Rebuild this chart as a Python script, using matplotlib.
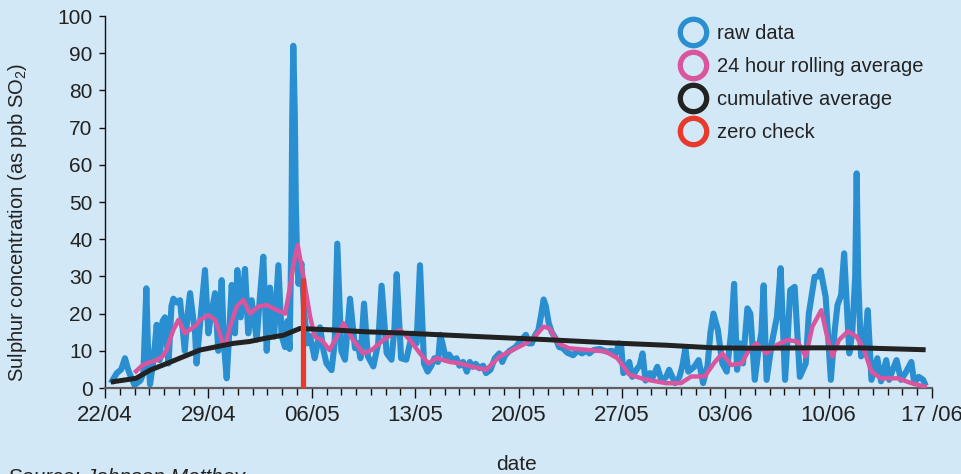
import matplotlib
matplotlib.use('Agg')
import matplotlib.pyplot as plt
from matplotlib.lines import Line2D
from matplotlib.ticker import MultipleLocator, FixedLocator

plt.rcParams['font.family'] = ['Liberation Sans', 'DejaVu Sans']
plt.rcParams['mathtext.fontset'] = 'custom'
plt.rcParams['mathtext.rm'] = 'Liberation Sans'
plt.rcParams['mathtext.it'] = 'Liberation Sans:italic'

# ---- data (x = days since 22/04) ----
tick_days = [0, 7, 14, 21, 28, 35, 42, 49, 56]
tick_labels = ['22/04', '29/04', '06/05', '13/05', '20/05', '27/05', '03/06', '10/06', '17 /06']

raw_day = [0.5, 0.8, 1.1, 1.35, 1.6, 2.0, 2.4, 2.6, 2.72, 2.8, 2.9, 3.05, 3.3, 3.5, 3.7, 3.9, 4.06,
           4.3, 4.5, 4.63, 4.85, 5.08, 5.4, 5.6, 5.76, 6.1, 6.2, 6.5, 6.77, 7.0, 7.2, 7.45, 7.67,
           7.9, 8.05, 8.24, 8.4, 8.58, 8.8, 8.96, 9.19, 9.48, 9.7, 9.93, 10.27, 10.5, 10.72, 10.95,
           11.17, 11.45, 11.74, 11.96, 12.19, 12.35, 12.5, 12.62, 12.68, 12.75, 12.85, 12.92, 13.0,
           13.1, 13.3, 13.5, 13.7, 13.88, 14.2, 14.4, 14.56, 14.8, 15.0, 15.34, 15.55, 15.73, 16.0,
           16.25, 16.59, 16.93, 17.1, 17.3, 17.54, 17.8, 18.17, 18.5, 18.73, 19.07, 19.4, 19.6,
           19.75, 20.05, 20.4, 20.65, 20.87, 21.1, 21.33, 21.6, 21.85, 22.1, 22.3, 22.55, 22.7,
           22.85, 23.1, 23.3, 23.55, 23.8, 24.0, 24.25, 24.5, 24.7, 24.9, 25.1, 25.35, 25.6, 25.8,
           26.1, 26.4, 26.7, 26.9, 27.1, 27.4, 27.8, 28.1, 28.5, 28.7, 28.9, 29.1, 29.35, 29.55,
           29.7, 29.85, 30.05, 30.25, 30.5, 30.75, 31.0, 31.3, 31.7, 32.0, 32.3, 32.6, 32.8, 33.07,
           33.5, 33.97, 34.3, 34.6, 34.8, 34.95, 35.1, 35.3, 35.5, 35.7, 36.0, 36.2, 36.4, 36.6,
           36.9, 37.1, 37.4, 37.7, 38.0, 38.2, 38.6, 38.9, 39.1, 39.3, 39.5, 39.9, 40.2, 40.5,
           40.8, 41.0, 41.2, 41.5, 41.8, 42.1, 42.4, 42.6, 42.8, 43.0, 43.2, 43.5, 43.7, 44.0,
           44.25, 44.45, 44.6, 44.8, 45.15, 45.5, 45.75, 46.05, 46.25, 46.4, 46.7, 47.05, 47.45,
           47.66, 48.05, 48.3, 48.46, 48.8, 49.15, 49.4, 49.6, 49.85, 50.05, 50.4, 50.6, 50.8,
           50.9, 51.0, 51.2, 51.45, 51.65, 51.9, 52.3, 52.55, 52.9, 53.1, 53.35, 53.6, 53.9, 54.2,
           54.6, 54.8, 55.1, 55.4, 55.5]
raw_val = [2, 4, 5, 8, 4.5, 0.8, 2, 4, 18, 26.8, 12, 1, 8, 17, 7.5, 18, 19,
           6.6, 22, 24, 23, 23.6, 10, 20, 25.5, 14.7, 6.6, 20, 31.7, 14.7, 20, 25.5, 10,
           29, 12, 2.6, 14, 27.7, 14.7, 31.7, 19, 32, 14.7, 23.6, 13, 25, 35.3, 10,
           27, 13.8, 33, 14, 11, 18, 10.5, 40, 73, 92, 74, 50, 36,
           28, 33.5, 20, 12, 14, 8, 12, 16.3, 10, 6.6, 4.8, 12, 38.8, 10,
           7.6, 24, 10.7, 12, 8, 22.7, 8.5, 5.8, 12, 27.5, 9.4, 7.6, 16,
           30.6, 8, 7.6, 12, 14.6, 12, 33, 6.6, 4.4, 6, 8, 7, 14.3,
           12, 7.5, 9, 7.5, 8, 6, 7, 4.4, 7, 5.7, 6.5, 5.3, 6, 4,
           4.9, 8, 9.3, 7, 8.8, 10, 11, 12.5, 14.3, 12, 12, 14, 15.6, 20,
           23.8, 22, 17.4, 15, 13.4, 11, 10.7, 9.5, 8.8, 10, 9.3, 10, 9.3, 10.2,
           10.5, 9.8, 10, 9.3, 12, 11.5, 4, 5, 7, 3, 5, 6, 9.3, 2,
           4, 3, 5.7, 1.8, 3, 4.9, 1.3, 3, 6, 10.7, 4.4, 5.7, 7.5, 1.3,
           6, 15, 20, 15.6, 6.6, 4.4, 15, 28, 4.9, 12, 6.6, 21.4, 20, 2.2,
           10.2, 15, 27.6, 2.2, 12, 19.2, 32.2, 2.2, 15, 26.3, 27.2, 3, 6.6,
           20, 29.9, 30, 31.6, 24.5, 2.2, 15, 22.3, 25, 36.2, 9.3, 15, 30,
           57.7, 30, 8.5, 12, 20.9, 2.2, 8, 1.8, 7.5, 2.2, 5, 7.5, 2.2, 4,
           7, 1.3, 3, 2.2, 1.3]

roll_day = [2.1, 2.5, 2.8, 3.5, 3.9, 4.17, 4.4, 4.63, 4.97, 5.2, 5.4, 5.87, 6.2, 6.43, 7.0, 7.45,
            7.75, 8.0, 8.2, 8.46, 8.92, 9.37, 9.82, 10.38, 10.95, 11.6, 12.2, 12.53, 12.8, 13.05,
            13.43, 13.9, 14.2, 14.67, 15.2, 15.7, 16.14, 16.8, 17.5, 18.06, 18.85, 19.5, 19.98,
            20.65, 21.33, 21.9, 22.46, 23.36, 24.04, 24.9, 25.8, 26.7, 27.6, 28.5, 29.0, 29.7,
            30.1, 30.7, 31.4, 32.8, 33.9, 34.7, 35.5, 36.6, 38.0, 39.0, 39.7, 40.6, 41.3, 41.8,
            42.4, 43.1, 43.6, 44.1, 44.8, 45.5, 46.2, 46.9, 47.45, 47.9, 48.5, 48.9, 49.25, 49.7,
            50.3, 50.9, 51.4, 51.9, 52.55, 53.7, 54.6, 55.5]
roll_val = [4.5, 6, 6.6, 7.5, 8.5, 10.2, 13, 15.6, 18.3, 16.5, 14.7, 16, 17, 18.3, 19.6, 18.3,
            15, 11.6, 12, 16.5, 21.9, 23.7, 20, 21.9, 22.3, 21, 20, 27.2, 34, 38.4,
            30, 19, 13.8, 12.9, 10.2, 13.8, 17.4, 12.9, 9.3, 10.2, 12.9, 14.7, 15.6,
            12.9, 9.3, 6.6, 8, 7, 6.6, 5.7, 4.9, 8.4, 10.2, 12, 13.4, 16.5,
            16, 12, 10.7, 10.2, 9.8, 8, 3.6, 2.3, 1.3, 1.3, 3.1, 3.1, 7, 9.3,
            6.2, 6.6, 10.2, 12, 9.3, 11.6, 12.9, 12.5, 8.5, 16.5, 20.9, 13.8, 8.5, 12.9,
            15.2, 13.8, 10.2, 4.4, 2.6, 2.6, 1.3, 0.4]

cum_day = [0.56, 2.1, 3.05, 4.2, 5.3, 6.43, 7.56, 8.7, 9.8, 10.9, 12.1, 13.2, 14.3, 15.5, 17.7,
           20, 22.2, 25.4, 29.9, 34.4, 38, 41.2, 44, 48, 51, 55.4]
cum_val = [1.7, 2.6, 4.8, 6.6, 8.4, 10.2, 11.1, 12, 12.5, 13.4, 14.2, 16, 15.8, 15.6, 15.1,
           14.8, 14.4, 13.8, 13, 12.1, 11.5, 10.8, 10.7, 10.8, 10.8, 10.3]

zero_day = [13.38, 13.38]
zero_val = [0, 29.5]

series_names = ['raw data', '24 hour rolling average', 'cumulative average', 'zero check']

# ---- style ----
BG = '#d3e8f6'
C_RAW = '#2a8fd0'
C_ROLL = '#d9559e'
C_CUM = '#222222'
C_ZERO = '#e8392a'

fig = plt.figure(figsize=(9.61, 4.74), dpi=100, facecolor=BG)
ax = fig.add_axes([105/961, 86/474, 827/961, 372/474], facecolor=BG)

ax.plot(raw_day, raw_val, color=C_RAW, lw=4.4, solid_joinstyle='round', zorder=2)
ax.plot(roll_day, roll_val, color=C_ROLL, lw=3.2, solid_joinstyle='round', zorder=3)
ax.plot(cum_day, cum_val, color=C_CUM, lw=3.6, solid_joinstyle='round', zorder=4)
ax.plot(zero_day, zero_val, color=C_ZERO, lw=3.8, solid_capstyle='butt', zorder=5, clip_on=False)

ax.set_xlim(0, 56)
ax.set_ylim(0, 100)

for s in ['top', 'right']:
    ax.spines[s].set_visible(False)
ax.spines['bottom'].set_color('#5f5f5f')
ax.spines['bottom'].set_linewidth(1.6)
ax.spines['left'].set_color('#111111')
ax.spines['left'].set_linewidth(1.0)

ax.xaxis.set_major_locator(FixedLocator(tick_days))
ax.set_xticklabels(tick_labels)
ax.xaxis.set_minor_locator(MultipleLocator(1))
ax.tick_params(axis='x', which='major', length=7, width=1.0, color='#111111',
               labelsize=16, pad=5, labelcolor='#222222')
ax.tick_params(axis='x', which='minor', length=5, width=1.0, color='#111111')
ax.yaxis.set_major_locator(MultipleLocator(10))
ax.tick_params(axis='y', which='major', length=4, width=1.0, color='#111111',
               labelsize=15, pad=5, labelcolor='#222222')

ax.set_ylabel('Sulphur concentration (as ppb SO$_2$)', fontsize=14.5, color='#222222')
ax.yaxis.set_label_coords(-0.092, 0.446)
ax.set_xlabel('date', fontsize=15, color='#222222')
ax.xaxis.set_label_coords(0.498, -0.18)

colors = [C_RAW, C_ROLL, C_CUM, C_ZERO]
handles = [Line2D([], [], ls='none', marker='o', ms=19, mfc='none', mec=c, mew=3.8)
           for c in colors]
leg = ax.legend(handles, series_names, loc='upper left',
                bbox_to_anchor=(679/961, 1 - 24/474), bbox_transform=fig.transFigure,
                frameon=False, fontsize=14.5, borderpad=0, borderaxespad=0,
                handlelength=1.4, handletextpad=0.5, labelspacing=0.7)
for t in leg.get_texts():
    t.set_color('#222222')

fig.text(0.008, 6/474, 'Source: Johnson Matthey', fontsize=15, style='italic',
         color='#222222', va='top', ha='left')

fig.savefig('out.png', dpi=100, facecolor=BG)
